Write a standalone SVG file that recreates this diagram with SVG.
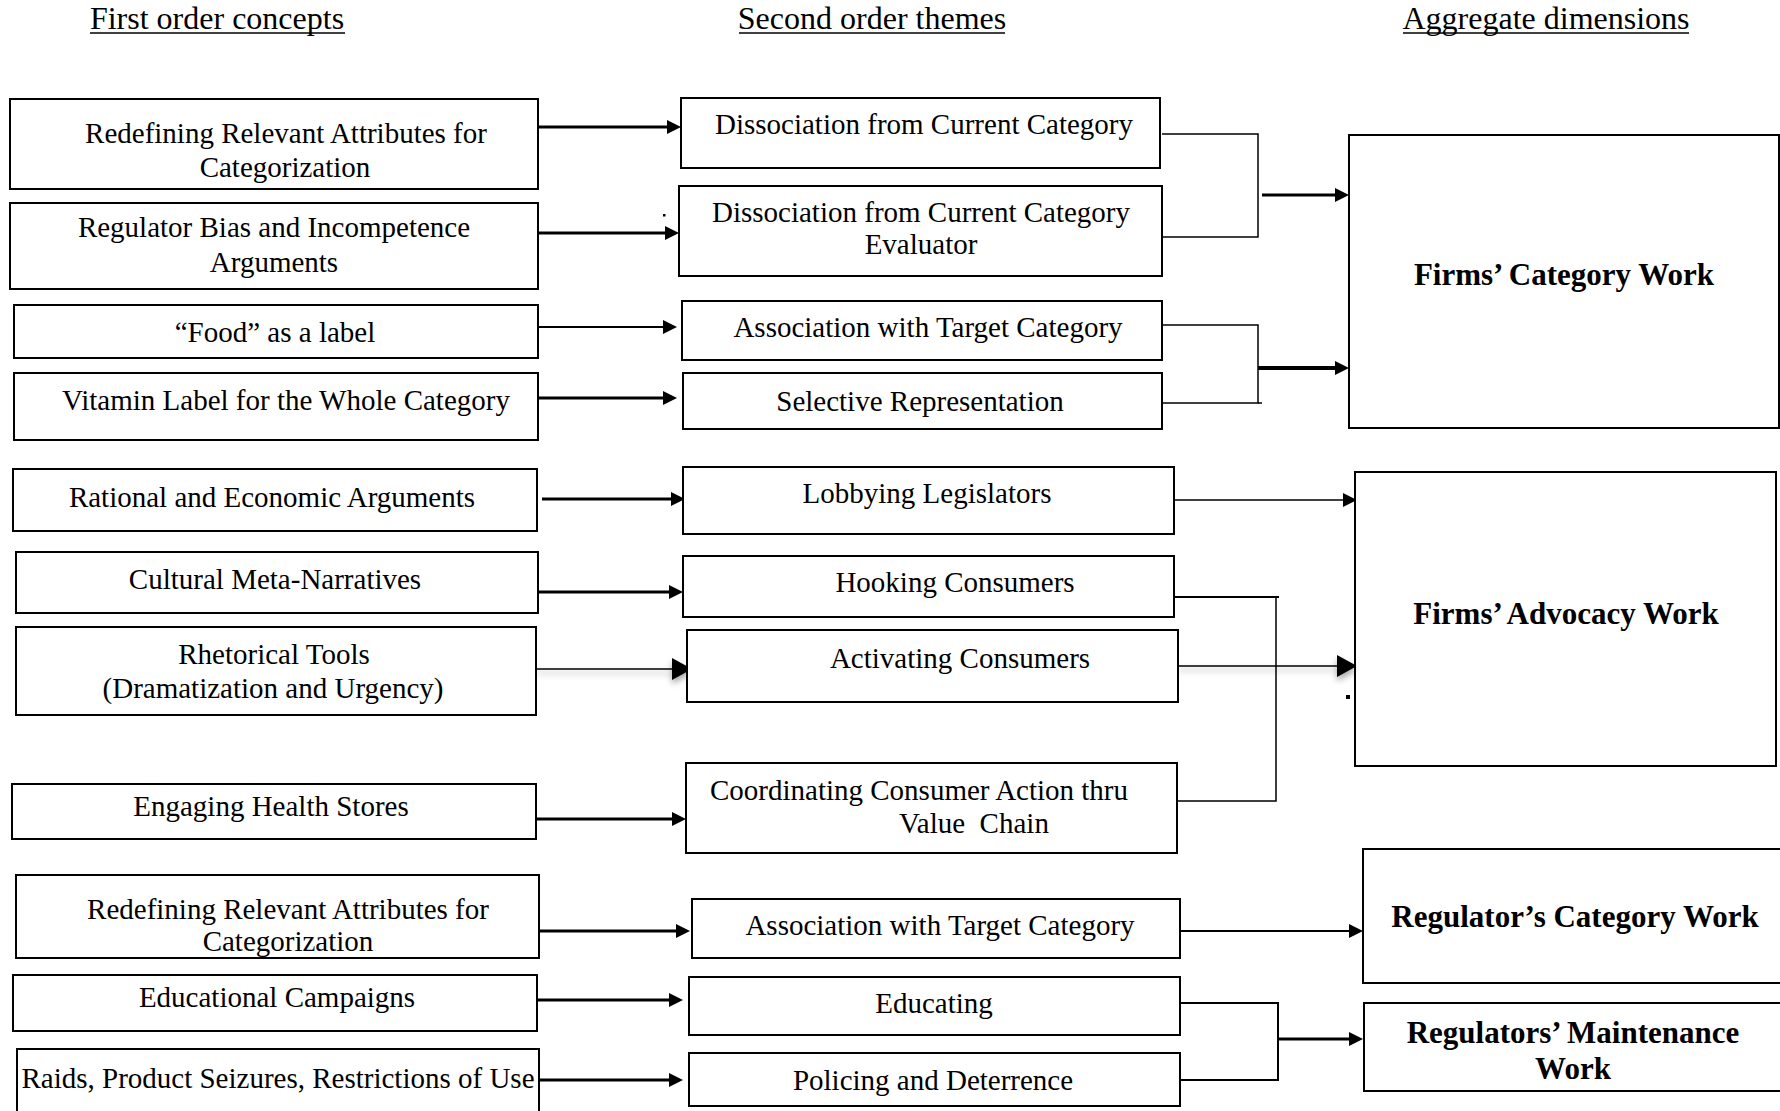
<svg xmlns="http://www.w3.org/2000/svg" width="1780" height="1111" viewBox="0 0 1780 1111">
<style>
  .box { fill: #fff; stroke: #000; stroke-width: 2; }
  .t { font-family: "Liberation Serif", "Times New Roman", serif; font-size: 29px; fill: #000; text-anchor: middle; }
  .b { font-family: "Liberation Serif", "Times New Roman", serif; font-size: 31px; font-weight: bold; fill: #000; text-anchor: middle; }
  .h { font-family: "Liberation Serif", "Times New Roman", serif; font-size: 32px; fill: #000; text-anchor: middle; }
  .c { fill: none; stroke: #000; }
  .thick { stroke-width: 3; }
  .mid { stroke-width: 2; }
  .thin { stroke-width: 1.5; }
</style>
<defs>
  <marker id="arr" markerUnits="userSpaceOnUse" markerWidth="14" markerHeight="14" refX="4" refY="7" orient="auto">
    <path d="M0,0 L14,7 L0,14 z" fill="#000"/>
  </marker>
  <marker id="arrBig" markerUnits="userSpaceOnUse" markerWidth="20" markerHeight="22" refX="8" refY="11" orient="auto">
    <path d="M0,0 L20,11 L0,22 z" fill="#000"/>
  </marker>
  <filter id="shadow" filterUnits="userSpaceOnUse" x="0" y="0" width="1780" height="1111">
    <feDropShadow dx="0" dy="4" stdDeviation="3" flood-color="#000" flood-opacity="0.35"/>
  </filter>
</defs>
<rect width="1780" height="1111" fill="#fff"/>

<g id="headers">
  <text class="h" x="217" y="29">First order concepts</text>
  <line x1="90" y1="33" x2="345" y2="33" stroke="#000" stroke-width="1.5"/>
  <text class="h" x="872" y="29">Second order themes</text>
  <line x1="739" y1="33" x2="1005" y2="33" stroke="#000" stroke-width="1.5"/>
  <text class="h" x="1546" y="29">Aggregate dimensions</text>
  <line x1="1403" y1="33" x2="1689" y2="33" stroke="#000" stroke-width="1.5"/>
</g>

<g id="connectors">
  <path class="c thick" d="M538,127 H671" marker-end="url(#arr)"/>
  <path class="c thick" d="M538,233 H669" marker-end="url(#arr)"/>
  <path class="c mid" d="M538,327 H667" marker-end="url(#arr)"/>
  <path class="c thick" d="M538,398 H667" marker-end="url(#arr)"/>
  <path class="c thin" d="M1162,134 H1258 V237 H1162"/>
  <path class="c thick" d="M1262,195 H1339" marker-end="url(#arr)"/>
  <path class="c thin" d="M1162,325 H1258 V403 H1162"/>
  <path class="c thin" d="M1258,403 H1262"/>
  <path class="c" stroke-width="4" d="M1258,368 H1339" marker-end="url(#arr)"/>

  <path class="c thick" d="M542,499 H675" marker-end="url(#arr)"/>
  <path class="c thick" d="M538,592 H673" marker-end="url(#arr)"/>
  <g filter="url(#shadow)">
    <path class="c thin" d="M536,669 H680" marker-end="url(#arrBig)"/>
  </g>
  <path class="c thick" d="M536,819 H676" marker-end="url(#arr)"/>
  <path class="c thin" d="M1174,500 H1347" marker-end="url(#arr)"/>
  <path class="c mid" d="M1174,597 H1279"/>
  <path class="c thin" d="M1276,598 V801 H1177"/>
  <g filter="url(#shadow)">
    <path class="c thin" d="M1178,666 H1345" marker-end="url(#arrBig)"/>
  </g>

  <path class="c thick" d="M539,931 H680" marker-end="url(#arr)"/>
  <path class="c thick" d="M537,1000 H673" marker-end="url(#arr)"/>
  <path class="c thick" d="M539,1080 H673" marker-end="url(#arr)"/>
  <path class="c mid" d="M1180,931 H1353" marker-end="url(#arr)"/>
  <path class="c mid" d="M1180,1003 H1278 V1080 H1180"/>
  <path class="c thick" d="M1277,1039 H1353" marker-end="url(#arr)"/>

  <rect x="663" y="214" width="2.5" height="2.5" fill="#000"/>
  <rect x="1346" y="695" width="4" height="4" fill="#000"/>
</g>

<g id="n-a1"><rect class="box" x="10" y="99" width="528" height="90"/>
  <text class="t" x="286" y="143">Redefining Relevant Attributes for</text>
  <text class="t" x="285" y="177">Categorization</text></g>
<g id="n-a2"><rect class="box" x="10" y="203" width="528" height="86"/>
  <text class="t" x="274" y="237">Regulator Bias and Incompetence</text>
  <text class="t" x="274" y="272">Arguments</text></g>
<g id="n-a3"><rect class="box" x="14" y="305" width="524" height="53"/>
  <text class="t" x="275" y="342">“Food” as a label</text></g>
<g id="n-a4"><rect class="box" x="14" y="373" width="524" height="67"/>
  <text class="t" x="286" y="410">Vitamin Label for the Whole Category</text></g>

<g id="n-b1"><rect class="box" x="681" y="98" width="479" height="70"/>
  <text class="t" x="924" y="134">Dissociation from Current Category</text></g>
<g id="n-b2"><rect class="box" x="679" y="186" width="483" height="90"/>
  <text class="t" x="921" y="222">Dissociation from Current Category</text>
  <text class="t" x="921" y="254">Evaluator</text></g>
<g id="n-b3"><rect class="box" x="682" y="301" width="480" height="59"/>
  <text class="t" x="928" y="337">Association with Target Category</text></g>
<g id="n-b4"><rect class="box" x="683" y="373" width="479" height="56"/>
  <text class="t" x="920" y="411">Selective Representation</text></g>

<g id="n-firms-category"><rect class="box" x="1349" y="135" width="430" height="293"/>
  <text class="b" x="1564" y="285">Firms’ Category Work</text></g>

<g id="n-c1"><rect class="box" x="13" y="469" width="524" height="62"/>
  <text class="t" x="272" y="507">Rational and Economic Arguments</text></g>
<g id="n-c2"><rect class="box" x="16" y="552" width="522" height="61"/>
  <text class="t" x="275" y="589">Cultural Meta-Narratives</text></g>
<g id="n-c3"><rect class="box" x="16" y="627" width="520" height="88"/>
  <text class="t" x="274" y="664">Rhetorical Tools</text>
  <text class="t" x="273" y="698">(Dramatization and Urgency)</text></g>
<g id="n-c4"><rect class="box" x="12" y="784" width="524" height="55"/>
  <text class="t" x="271" y="816">Engaging Health Stores</text></g>

<g id="n-d1"><rect class="box" x="683" y="467" width="491" height="67"/>
  <text class="t" x="927" y="503">Lobbying Legislators</text></g>
<g id="n-d2"><rect class="box" x="683" y="556" width="491" height="61"/>
  <text class="t" x="955" y="592">Hooking Consumers</text></g>
<g id="n-d3"><rect class="box" x="687" y="630" width="491" height="72"/>
  <text class="t" x="960" y="668">Activating Consumers</text></g>
<g id="n-d4"><rect class="box" x="686" y="763" width="491" height="90"/>
  <text class="t" x="919" y="800">Coordinating Consumer Action thru</text>
  <text class="t" x="974" y="833" xml:space="preserve">Value  Chain</text></g>

<g id="n-firms-advocacy"><rect class="box" x="1355" y="472" width="421" height="294"/>
  <text class="b" x="1566" y="624">Firms’ Advocacy Work</text></g>

<g id="n-e1"><rect class="box" x="16" y="875" width="523" height="83"/>
  <text class="t" x="288" y="919">Redefining Relevant Attributes for</text>
  <text class="t" x="288" y="951">Categorization</text></g>
<g id="n-e2"><rect class="box" x="13" y="975" width="524" height="56"/>
  <text class="t" x="277" y="1007">Educational Campaigns</text></g>
<g id="n-e3"><rect class="box" x="17" y="1049" width="522" height="75"/>
  <text class="t" x="278" y="1088">Raids, Product Seizures, Restrictions of Use</text></g>

<g id="n-f1"><rect class="box" x="692" y="899" width="488" height="59"/>
  <text class="t" x="940" y="935">Association with Target Category</text></g>
<g id="n-f2"><rect class="box" x="689" y="977" width="491" height="58"/>
  <text class="t" x="934" y="1013">Educating</text></g>
<g id="n-f3"><rect class="box" x="689" y="1053" width="491" height="53"/>
  <text class="t" x="933" y="1090">Policing and Deterrence</text></g>

<g id="n-reg-category"><rect class="box" x="1363" y="849" width="420" height="134"/>
  <text class="b" x="1575" y="927">Regulator’s Category Work</text></g>
<g id="n-reg-maintenance"><rect class="box" x="1364" y="1003" width="420" height="88"/>
  <text class="b" x="1573" y="1043">Regulators’ Maintenance</text>
  <text class="b" x="1573" y="1079">Work</text></g>
</svg>
